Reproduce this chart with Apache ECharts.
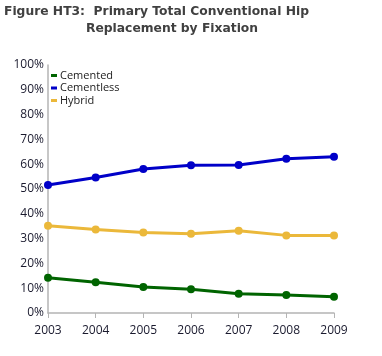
<!DOCTYPE html>
<html><head><meta charset="utf-8">
<script src="https://cdn.jsdelivr.net/npm/echarts@6/dist/echarts.min.js"></script>
<style>html,body{margin:0;padding:0;background:#fff}#c{width:382px;height:356px}</style>
</head><body><div id="c"></div>
<script>
const years = ['2003','2004','2005','2006','2007','2008','2009'];
const cemented = [14.2, 12.4, 10.5, 9.6, 7.8, 7.3, 6.6];
const cementless = [51.6, 54.6, 58.1, 59.6, 59.7, 62.2, 63.0];
const hybrid = [35.2, 33.7, 32.5, 32.0, 33.2, 31.3, 31.2];
const seriesNames = ['Cemented', 'Cementless', 'Hybrid'];
const colors = ['#006400', '#0000C8', '#EBB83A'];

const chart = echarts.init(document.getElementById('c'));
const mk = (name, data, color) => ({
  name, type: 'line', data, color,
  symbol: 'circle', symbolSize: 8,
  lineStyle: { width: 3, color },
  itemStyle: { color }
});
chart.setOption({
  animation: false,
  title: [
    { text: 'Figure HT3:  Primary Total Conventional Hip', left: 4, top: 6, padding: 0,
      textStyle: { fontFamily: 'DejaVu Sans', fontWeight: 'bold', fontSize: 12.3, color: '#404040' } },
    { text: 'Replacement by Fixation', left: 86, top: 23, padding: 0,
      textStyle: { fontFamily: 'DejaVu Sans', fontWeight: 'bold', fontSize: 12.3, color: '#404040' } }
  ],
  legend: {
    orient: 'vertical', left: 51, top: 70, padding: 0, itemGap: 1.5,
    itemWidth: 6, itemHeight: 3, icon: 'rect',
    textStyle: { fontFamily: 'Open Sans', fontSize: 11, color: '#222', padding: [0,0,0,-2] },
    data: seriesNames
  },
  grid: { left: 48, right: 48, top: 65, bottom: 43, containLabel: false },
  xAxis: {
    type: 'category', data: years, boundaryGap: false,
    axisLine: { lineStyle: { color: '#b4b4b4', width: 1.5 } },
    axisTick: { show: true, length: 5, lineStyle: { color: '#b4b4b4' } },
    axisLabel: { fontFamily: 'Open Sans', fontSize: 12, color: '#1a1a2e', margin: 12 },
    splitLine: { show: false }
  },
  yAxis: {
    type: 'value', min: 0, max: 100, interval: 10,
    axisLine: { show: true, lineStyle: { color: '#b4b4b4', width: 1.5 } },
    axisTick: { show: false },
    axisLabel: { formatter: '{value}%', fontFamily: 'Open Sans', fontSize: 12, color: '#1a1a2e', margin: 4 },
    splitLine: { show: false }
  },
  series: [
    mk(seriesNames[0], cemented, colors[0]),
    mk(seriesNames[1], cementless, colors[1]),
    mk(seriesNames[2], hybrid, colors[2])
  ]
});
</script></body></html>
